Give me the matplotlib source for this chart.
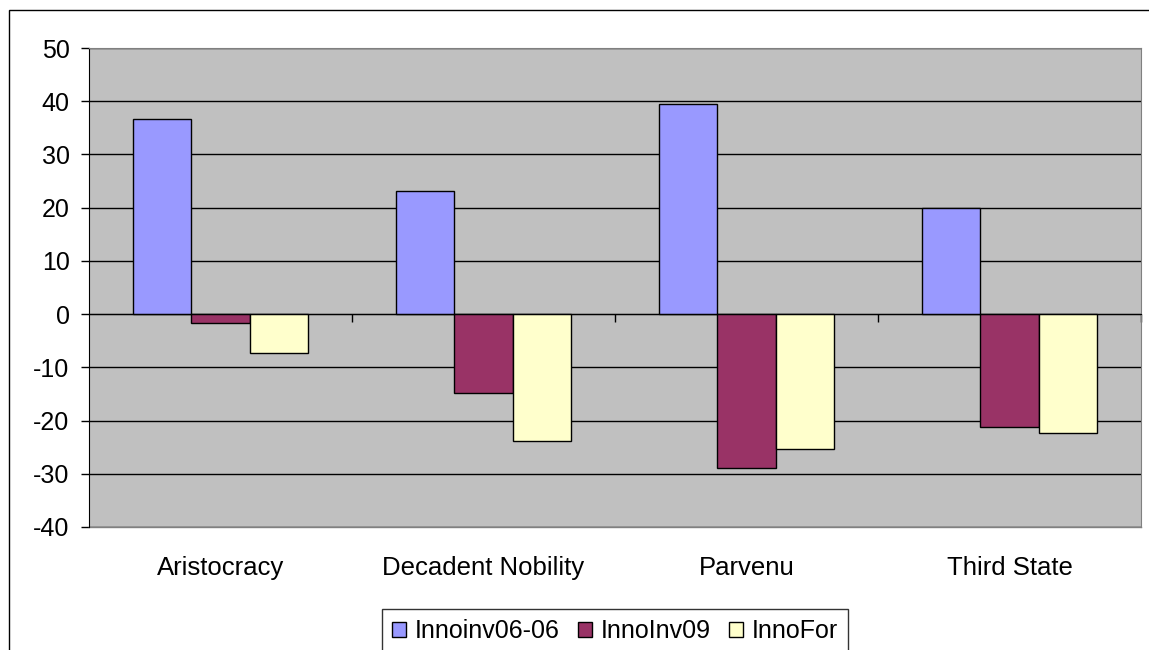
import numpy as np
import matplotlib.pyplot as plt
from matplotlib.patches import Rectangle

# Category names and series values
categories = ["Aristocracy", "Decadent Nobility", "Parvenu", "Third State"]
series_names = ["Innoinv06-06", "InnoInv09", "InnoFor"]
innoinv06 = [36.7, 23.1, 39.5, 19.9]
innoinv09 = [-1.7, -14.8, -28.9, -21.2]
innofor = [-7.3, -23.8, -25.4, -22.3]
y_ticks = [-40, -30, -20, -10, 0, 10, 20, 30, 40, 50]

colors = ["#9999FF", "#993366", "#FFFFCC"]

plt.rcParams["font.family"] = ["Liberation Sans", "DejaVu Sans"]
plt.rcParams["axes.unicode_minus"] = False

W, H = 1149, 650
fig = plt.figure(figsize=(W / 100, H / 100), dpi=100)
fig.patch.set_facecolor("white")

# outer chart border (runs off the right and bottom edges)
fig.patches.append(Rectangle((9 / W, -0.05), 1.1, 1 - 10 / H + 0.05,
                             transform=fig.transFigure, fill=False,
                             edgecolor="black", linewidth=1.0))

left, right, top, bottom = 89, 1141, 48, 527
ax = fig.add_axes([left / W, 1 - bottom / H, (right - left) / W, (bottom - top) / H])
ax.set_facecolor("#C0C0C0")

x = np.arange(len(categories))
bw = 1 / 4.5  # gap width 150%
for i, (vals, name) in enumerate(zip([innoinv06, innoinv09, innofor], series_names)):
    ax.bar(x + (i - 1) * bw, vals, bw, color=colors[i], edgecolor="black",
           linewidth=1.0, label=name, zorder=3)

ax.set_xlim(-0.5, len(categories) - 0.5)
ax.set_ylim(-40, 50)
ax.set_yticks(y_ticks)
ax.yaxis.grid(True, color="black", linewidth=1.0, zorder=1)
ax.set_axisbelow(True)
ax.tick_params(axis="y", direction="out", length=6, width=1.0, pad=8,
               labelsize=18, colors="black")

# x axis sits at zero, ticks between categories
ax.spines["bottom"].set_position(("data", 0))
ax.spines["bottom"].set_zorder(4)
ax.set_xticks([])
ax.set_xticks(np.arange(0.5, len(categories)), minor=True)
ax.tick_params(axis="x", which="minor", direction="out", length=6, width=1.0,
               labelbottom=False)
ax.spines["left"].set_color("black")
for s in ["top", "right"]:
    ax.spines[s].set_color("#808080")

# category labels below the plot area
for xi, name in zip(x, categories):
    ax.text(xi, -0.10, name, transform=ax.get_xaxis_transform(),
            ha="center", va="baseline", fontsize=18.5)

# bottom edge of the plot area
ax.plot([0, 1], [0, 0], transform=ax.transAxes, color="#808080",
        linewidth=1.0, clip_on=False, zorder=2)

leg = fig.legend(loc="upper center", bbox_to_anchor=(615 / W, 1 - 609 / H),
                 ncol=3, fontsize=18, frameon=True, fancybox=False,
                 edgecolor="black", borderaxespad=0, handlelength=0.55,
                 handleheight=0.55, handletextpad=0.35, columnspacing=0.75,
                 borderpad=0.4)
leg.get_frame().set_linewidth(1.0)

fig.savefig("out.png", dpi=100)
